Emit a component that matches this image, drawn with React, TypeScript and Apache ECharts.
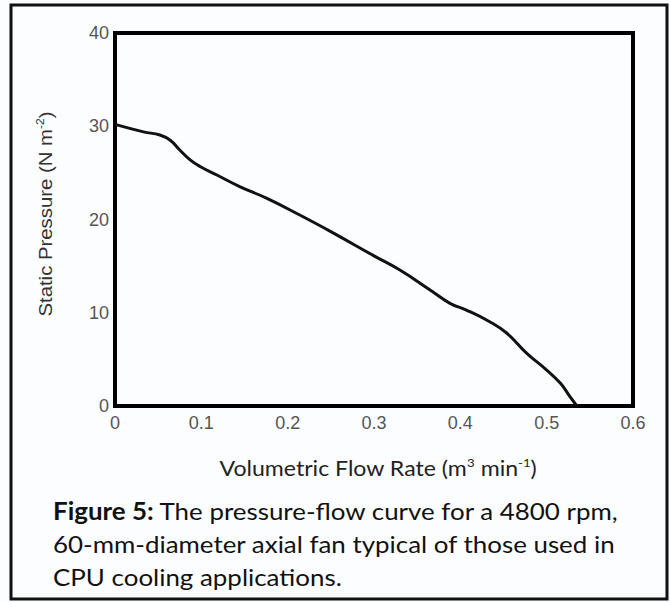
import React, { useEffect, useRef } from "react";
import * as echarts from "echarts";

const flowRates = [0, 0.033, 0.052, 0.064, 0.075, 0.087, 0.099, 0.118, 0.145, 0.176, 0.214, 0.25, 0.3, 0.33, 0.365, 0.388, 0.407, 0.434, 0.454, 0.477, 0.5, 0.516, 0.527, 0.535];
const pressures = [30.2, 29.4, 29.06, 28.5, 27.45, 26.4, 25.66, 24.77, 23.5, 22.27, 20.48, 18.7, 16.1, 14.58, 12.44, 11.01, 10.29, 9.04, 7.8, 5.65, 3.86, 2.43, 1.0, 0];
const xTicks = [0, 0.1, 0.2, 0.3, 0.4, 0.5, 0.6];
const yTicks = [0, 10, 20, 30, 40];
const captionLines = [
  "The pressure-flow curve for a 4800 rpm,",
  "60-mm-diameter axial fan typical of those used in",
  "CPU cooling applications.",
];

export default function App() {
  const ref = useRef<HTMLDivElement>(null);
  useEffect(() => {
    if (!ref.current) return;
    const chart = echarts.init(ref.current, null, { renderer: "svg" });
    const data = flowRates.map((x, i) => [x, pressures[i]]);
    const captionFont = "Lato, 'Open Sans', sans-serif";
    const arial = "'Liberation Sans', Arial, sans-serif";
    const capSize = 24;
    const capScale = 1.08;
    chart.setOption({
      animation: false,
      backgroundColor: "#fbfdfe",
      grid: {
        left: 115,
        right: 37,
        top: 33,
        bottom: 196,
        show: true,
        borderColor: "#000",
        borderWidth: 4,
        backgroundColor: "transparent",
      },
      xAxis: {
        type: "value",
        min: xTicks[0],
        max: xTicks[xTicks.length - 1],
        interval: 0.1,
        axisLine: { show: false },
        axisTick: { show: false },
        splitLine: { show: false },
        axisLabel: {
          color: "#555",
          fontFamily: arial,
          fontSize: 18,
          margin: 8,
          formatter: (v: number) => (v === 0 ? "0" : v.toFixed(1)),
        },
      },
      yAxis: {
        type: "value",
        min: yTicks[0],
        max: yTicks[yTicks.length - 1],
        interval: 10,
        axisLine: { show: false },
        axisTick: { show: false },
        splitLine: { show: false },
        axisLabel: {
          color: "#555",
          fontFamily: arial,
          fontSize: 18,
          margin: 6,
        },
      },
      series: [
        {
          type: "line",
          data,
          showSymbol: false,
          smooth: 0.45,
          lineStyle: { color: "#111", width: 3 },
          z: 3,
        },
      ],
      graphic: [
        {
          type: "rect",
          shape: { x: 11, y: 5, width: 656, height: 594 },
          style: { fill: "none", stroke: "#111", lineWidth: 3 },
          silent: true,
        },
        {
          type: "text",
          x: 45,
          y: 214,
          rotation: Math.PI / 2,
          scaleX: 1.1,
          style: {
            text: "{n|Static Pressure (N m}{s|-2}{n|)}",
            align: "center",
            verticalAlign: "middle",
            rich: {
              n: { fontFamily: arial, fontSize: 18.5, fill: "#333" },
              s: { fontFamily: arial, fontSize: 11, fill: "#333", padding: [0, 0, 9, 0] },
            },
          },
        },
        {
          type: "text",
          x: 378,
          y: 468,
          scaleX: 1.1,
          style: {
            text: "{n|Volumetric Flow Rate (m}{s|3}{n| min}{s|-1}{n|)}",
            align: "center",
            verticalAlign: "middle",
            rich: {
              n: { fontFamily: captionFont, fontSize: 21, fill: "#222" },
              s: { fontFamily: captionFont, fontSize: 12, fill: "#222", padding: [0, 0, 10, 0] },
            },
          },
        },
        {
          type: "text",
          x: 53,
          y: 510,
          scaleX: capScale,
          style: {
            text: "{b|Figure 5:}{n| " + captionLines[0] + "}",
            verticalAlign: "middle",
            rich: {
              b: { fontFamily: captionFont, fontSize: capSize, fontWeight: "bold", fill: "#111" },
              n: { fontFamily: captionFont, fontSize: capSize, fill: "#111" },
            },
          },
        },
        {
          type: "text",
          x: 53,
          y: 543,
          scaleX: capScale,
          style: {
            text: captionLines[1],
            verticalAlign: "middle",
            fontFamily: captionFont,
            fontSize: capSize,
            fill: "#111",
          },
        },
        {
          type: "text",
          x: 53,
          y: 576,
          scaleX: capScale,
          style: {
            text: captionLines[2],
            verticalAlign: "middle",
            fontFamily: captionFont,
            fontSize: capSize,
            fill: "#111",
          },
        },
      ],
    });
    return () => chart.dispose();
  }, []);
  return (
    <div
      ref={ref}
      style={{ position: "fixed", left: 0, top: 0, width: 670, height: 602 }}
    />
  );
}
